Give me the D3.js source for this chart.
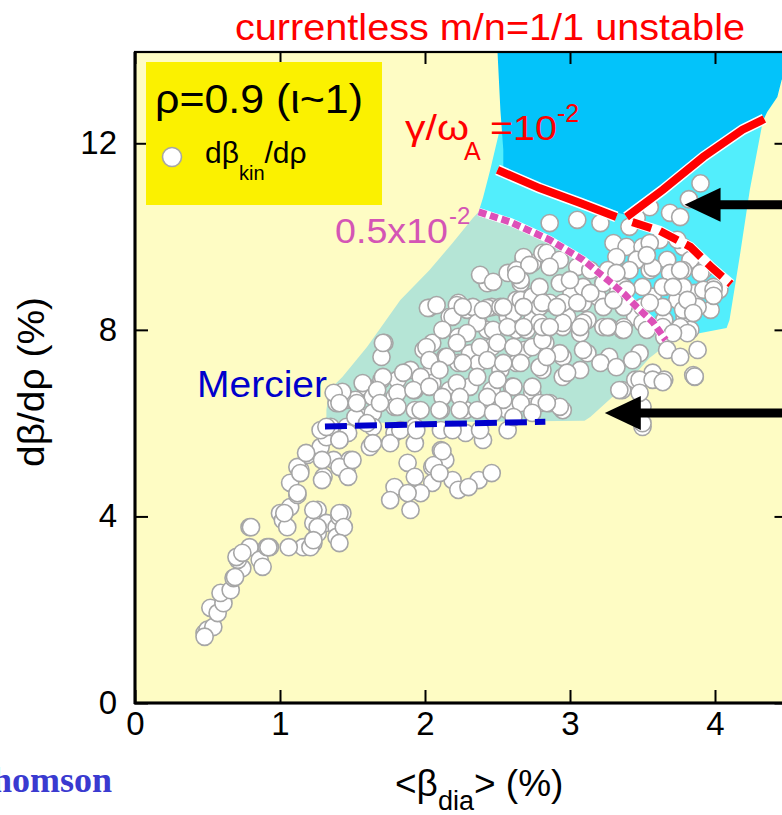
<!DOCTYPE html>
<html><head><meta charset="utf-8">
<script src="https://cdn.jsdelivr.net/npm/d3@7"></script>
<style>body{margin:0;background:#fff}svg{display:block}</style>
</head><body><svg id="c" width="782" height="815" font-family="'Liberation Sans',Arial,sans-serif"></svg>
<script>
// ---------- data ----------
const xTicks = [0, 1, 2, 3, 4];
const yTicks = [0, 4, 8, 12];

// <beta_dia> (%), d beta_kin / d rho (%)
const dBetaKinPoints = [
[0.48,1.50],[0.50,1.57],[0.54,1.63],[0.52,2.04],[0.57,1.93],[0.61,2.14],[0.59,2.36],[0.66,2.42],[0.68,2.68],[0.74,2.89],
[0.71,3.07],[0.70,3.13],[0.79,3.34],[0.86,3.07],[0.91,3.34],[0.88,2.92],[0.79,3.77],[1.00,4.07],[1.02,3.92],[1.05,3.77],
[1.07,4.20],[1.12,4.46],[1.07,4.72],[1.14,5.00],[1.19,5.32],[1.12,5.06],[1.28,5.49],[1.32,5.70],[1.41,5.64],[1.37,5.21],
[1.48,5.21],[1.46,4.93],[1.30,4.85],[1.26,4.14],[1.23,3.86],[1.26,3.64],[1.23,3.43],[1.16,3.34],[1.32,3.86],[1.39,3.77],
[1.41,3.99],[1.43,4.07],[1.39,3.56],[1.28,5.85],[1.46,5.92],[1.62,5.49],[1.55,6.13],[1.39,6.43],[1.46,6.50],
[0.48,1.42],[0.69,2.70],[1.21,3.34],[0.93,3.34],
[2.43,9.00],[2.66,9.00],[2.98,9.00],[3.36,8.92],[3.65,8.92],[4.03,8.86],[2.03,8.47],[2.23,8.58],[2.31,8.43],[2.46,8.49],
[2.63,8.64],[2.78,8.71],[2.86,8.58],[3.01,8.79],[3.19,8.71],[3.33,8.79],[3.57,8.71],[3.74,8.64],[3.86,8.79],[3.97,8.43],
[2.17,8.28],[2.37,8.15],[2.57,8.28],[2.74,8.21],[2.83,8.06],[2.98,8.28],[3.12,8.21],[3.27,8.06],[3.45,8.28],[3.65,8.21],
[3.79,8.28],[3.83,8.00],[3.36,8.00],[3.07,7.93],[2.63,8.00],[2.43,8.00],[2.23,7.85],[2.05,7.72],[1.99,7.57],[1.72,7.72],
[1.70,7.42],[2.14,7.42],[2.31,7.50],[2.46,7.63],[2.69,7.57],[2.83,7.72],[2.95,7.42],[3.12,7.50],[3.27,7.42],[3.48,7.50],
[3.65,7.85],[3.86,6.99],[3.36,6.71],[3.45,6.93],[3.57,7.08],[3.65,6.93],[3.50,6.35],[3.50,5.92],[3.07,7.14],[2.95,6.99],
[2.81,7.14],[2.63,7.29],[2.52,7.14],[2.37,7.29],[2.23,7.29],[2.05,7.20],[1.90,7.14],[1.81,6.93],[1.70,6.93],[1.59,6.78],
[1.44,6.60],[1.52,6.50],[1.64,6.56],[1.79,6.56],[1.93,6.71],[2.05,6.86],[2.17,6.71],[2.31,6.78],[2.46,6.71],[2.60,6.78],
[2.74,6.65],[2.86,6.43],[2.95,6.28],[2.74,6.35],[2.57,6.28],[2.43,6.35],[2.28,6.28],[2.11,6.28],[1.93,6.28],[1.79,6.35],
[1.64,6.22],[1.52,6.13],[1.35,5.92],[1.47,5.79],[1.64,5.92],[1.79,5.79],[1.93,5.92],[2.11,5.85],[2.28,5.79],[2.40,5.64],
[2.57,5.85],[1.76,5.57],[1.64,5.57],[1.41,5.64],[1.93,5.57],[2.11,5.42],[2.14,5.21],[2.05,5.06],[1.88,5.15],[1.93,4.85],
[2.05,4.72],[2.19,4.78],[2.23,4.57],[2.37,4.78],[2.46,4.93],[1.79,4.63],[1.76,4.35],[1.90,4.14],[1.97,4.50],[1.18,5.36],
[1.29,5.21],[1.41,5.06],[1.50,5.21],[1.14,4.93],[1.29,4.78],[1.47,4.85],[1.12,4.50],[1.03,4.07],[1.23,4.14],[1.41,4.07],
[1.44,3.77],[1.26,3.77],[1.23,3.49],[1.41,3.43],[0.80,3.77],[0.74,3.22],[0.92,3.34],[1.06,3.34],
[2.38,9.18],[2.47,9.03],[2.68,9.50],[2.66,9.07],[2.74,9.43],[2.81,9.65],[2.02,8.47],[2.08,8.53],[2.22,8.53],[2.29,8.43],
[2.19,8.28],[2.33,8.49],[2.43,8.47],[2.52,8.49],[2.61,8.36],[2.66,8.64],[2.74,8.71],[2.79,8.49],[2.36,8.15],[2.47,8.00],
[2.57,8.06],[2.70,8.00],[2.79,8.15],[2.29,7.93],[2.12,8.00],[2.22,7.72],[2.38,7.63],[2.50,7.72],[2.61,7.63],[2.74,7.63],
[2.81,7.78],[1.71,7.72],[2.01,7.63],[2.03,7.35],[2.15,7.42],[2.26,7.29],[2.43,7.35],[2.54,7.29],[2.66,7.29],[2.79,7.20],
[1.71,6.99],[1.85,7.08],[1.97,6.99],[2.10,7.14],[2.22,6.86],[2.36,6.99],[2.50,6.93],[2.61,6.78],[2.74,6.78],[1.43,6.67],
[1.57,6.86],[1.67,6.71],[1.81,6.65],[1.92,6.71],[2.03,6.78],[2.12,6.56],[2.24,6.56],[2.43,6.56],[2.54,6.50],[2.66,6.43],
[2.79,6.43],[1.53,6.43],[1.69,6.43],[1.81,6.35],[1.97,6.28],[2.10,6.28],[2.24,6.28],[2.36,6.28],[2.47,6.22],[2.61,6.13],
[2.74,6.22],[1.37,6.65],[1.41,6.43],[1.32,5.92],[1.60,6.00],[1.83,5.85],[1.94,5.85],[2.19,5.85],[2.38,5.85],
[2.86,10.29],[3.05,10.36],[3.21,10.29],[3.55,10.63],[3.69,10.51],[3.76,10.42],[3.82,10.80],[3.90,11.14],[3.46,10.40],
[3.30,9.86],[3.39,9.78],[3.50,9.78],[3.62,9.93],[3.78,9.78],[3.83,9.50],[3.67,9.50],[3.46,9.50],[3.32,9.56],[2.68,9.56],
[2.84,9.65],[2.93,9.50],[3.05,9.35],[3.14,9.28],[3.26,9.28],[3.41,9.28],[3.55,9.28],[3.69,9.22],[3.78,9.28],[3.92,9.28],
[3.99,8.92],[3.92,8.86],[3.78,8.92],[3.64,8.92],[3.50,8.92],[3.37,8.92],[3.23,9.00],[3.09,8.92],[2.93,9.00],[2.79,8.92],
[2.57,9.22],[2.63,9.28],[2.26,8.49],[2.40,8.43],[2.54,8.49],[2.68,8.49],[2.81,8.58],[2.95,8.58],[3.09,8.58],[3.23,8.49],
[3.37,8.49],[3.50,8.49],[3.64,8.49],[3.78,8.43],[3.88,8.49],[3.76,8.06],[3.64,8.06],[3.50,8.15],[3.37,8.06],[3.23,8.06],
[3.09,8.15],[2.95,8.06],[2.81,8.06],[2.68,8.06],
[2.86,9.35],[3.00,9.07],[3.14,8.79],[3.32,9.22],[3.57,9.33],[3.76,9.28],[3.90,9.22],[3.99,8.86],[3.71,8.92],[3.81,8.64],
[3.85,8.36],[3.81,7.93],[3.71,7.93],[3.67,7.57],[3.53,8.00],[3.55,8.58],[3.39,8.86],[3.30,8.64],[3.37,8.00],[3.26,8.06],
[3.07,8.06],[2.95,8.15],[2.86,8.06],[2.91,8.49],[3.05,8.58],[3.09,7.57],[2.93,7.50],[2.84,7.42],[2.98,7.08],[3.21,7.29],
[3.32,7.20],[3.43,7.35],[3.48,6.93],[3.57,6.93],[3.64,6.88],[3.34,6.71],[3.48,6.65],[3.85,7.03],[3.50,6.00],[2.93,6.35],
[2.84,6.43],
[3.41,10.21],[3.55,9.86],[3.74,9.93],[2.72,9.39],[2.63,9.18],[3.53,9.60],[3.99,8.73],[3.88,7.57],[3.76,7.42],[3.86,7.00],
[2.06,5.10],[2.12,5.40],[1.88,4.50],[2.10,4.93],[2.30,4.63]
];

// stability regions (beta_dia, dbeta/drho)
const unstableRegion = [[2.50,13.96],[4.55,13.96],[4.55,13.58],[4.46,13.36],[4.43,12.99],[4.36,12.67],[4.33,12.48],
  [4.19,12.29],[3.92,11.71],[3.64,11.00],[3.39,10.46],[3.07,10.72],[2.79,11.04],[2.54,11.43],[2.54,11.86],[2.52,12.71]];
const gammaCurveSolidLeft = [[2.50,11.43],[2.79,11.04],[3.07,10.72],[3.32,10.42]];
const gammaCurveSolidRight = [[3.39,10.42],[3.64,11.00],[3.92,11.71],[4.19,12.29],[4.34,12.52]];
const gammaCurveDashed = [[3.43,10.31],[3.62,10.12],[3.83,9.78],[3.98,9.33],[4.11,8.98]];
const halfGammaCurve = [[2.37,10.53],[2.59,10.31],[2.86,9.93],[3.09,9.50],[3.26,9.07],[3.38,8.75],[3.46,8.49],[3.57,8.17],[3.66,7.78]];
const cyanRegionOuter = [[2.51,12.22],[4.38,12.93],[4.33,12.48],[4.24,11.00],[4.17,9.56],[4.10,8.21],[4.08,8.04],[3.90,7.93],[3.66,7.74]];
const cyanRegionLeft = [[2.37,10.53],[2.40,10.83],[2.45,11.43]];
const tealRegionEdge = [[3.66,7.78],[3.62,7.57],[3.55,7.40],[3.37,6.78],[3.14,6.13],[3.10,6.05],[1.32,6.00],[1.32,6.28],
  [1.34,6.71],[1.43,6.99],[1.60,7.63],[1.83,8.64],[2.03,9.28],[2.19,9.86],[2.33,10.40]];
const mercierLine = [[1.31,5.93],[2.83,6.03]];
const arrowTips = [[3.79,10.68],[3.24,6.22]];

// ---------- drawing ----------
const svg = d3.select("#c");
const x = d3.scaleLinear().domain([0, 4.5]).range([135, 787.5]);
const y = d3.scaleLinear().domain([0, 14]).range([703, 50]);
const L = 135, T = 52, R = 787.5, B = 703;
const SANS = "'Liberation Sans',Arial,sans-serif";

svg.append("defs").append("clipPath").attr("id","clip")
  .append("rect").attr("x",L).attr("y",T).attr("width",R-L).attr("height",B-T);

svg.append("rect").attr("x",L).attr("y",T).attr("width",R-L).attr("height",B-T).attr("fill","#fefcc4");

const g = svg.append("g").attr("clip-path","url(#clip)");
const line = d3.line().x(d=>x(d[0])).y(d=>y(d[1]));
const poly = pts => "M" + pts.map(d=>x(d[0])+","+y(d[1])).join("L") + "Z";

const cyanPts = cyanRegionOuter.concat(halfGammaCurve.slice().reverse()).concat(cyanRegionLeft.slice(1));
g.append("path").attr("d", poly(cyanPts)).attr("fill","#52eefc");
g.append("path").attr("d", poly(unstableRegion)).attr("fill","#03c3fa");
const tealPts = halfGammaCurve.concat(tealRegionEdge.slice(1));
g.append("path").attr("d", poly(tealPts)).attr("fill","#b5e5d6");

// scatter
g.append("g").selectAll("circle").data(dBetaKinPoints).join("circle")
  .attr("cx", d=>x(d[0])).attr("cy", d=>y(d[1])).attr("r", 8.6)
  .attr("fill","#fff").attr("stroke","#a6a6a6").attr("stroke-width",1.6);

// curves
[gammaCurveSolidLeft, gammaCurveSolidRight].forEach(c=>{
  g.append("path").attr("d", line(c)).attr("fill","none").attr("stroke","#fff").attr("stroke-width",11);
  g.append("path").attr("d", line(c)).attr("fill","none").attr("stroke","#ff0000").attr("stroke-width",8);
});
g.append("path").attr("d", line(gammaCurveDashed)).attr("fill","none").attr("stroke","#fff").attr("stroke-width",10);
g.append("path").attr("d", line(gammaCurveDashed)).attr("fill","none").attr("stroke","#ff0000").attr("stroke-width",8).attr("stroke-dasharray","20,9");
g.append("path").attr("d", line(halfGammaCurve)).attr("fill","none").attr("stroke","#fff").attr("stroke-width",8);
g.append("path").attr("d", line(halfGammaCurve)).attr("fill","none").attr("stroke","#dd50b8").attr("stroke-width",7).attr("stroke-dasharray","8,4");
g.append("path").attr("d", line(mercierLine)).attr("fill","none").attr("stroke","#0000cc").attr("stroke-width",6).attr("stroke-dasharray","22,8");

// arrows
arrowTips.forEach(t=>{
  const tx = x(t[0]), ty = y(t[1]);
  svg.append("line").attr("x1",tx+30).attr("y1",ty).attr("x2",800).attr("y2",ty).attr("stroke","#000").attr("stroke-width",9);
  svg.append("path").attr("d",`M${tx},${ty}L${tx+36},${ty-17}L${tx+36},${ty+17}Z`).attr("fill","#000");
});

// axes / frame
const tickStyle = sel => { sel.select(".domain").remove(); sel.selectAll(".tick line").attr("stroke","#000").attr("stroke-width",2);
  sel.attr("font-family",SANS).attr("font-size",33);
  sel.selectAll("text").attr("fill","#000"); };
svg.append("g").attr("transform",`translate(0,${B})`).call(d3.axisBottom(x).tickValues(xTicks).tickSize(-13).tickPadding(9).tickFormat(d3.format("d"))).call(tickStyle);
svg.append("g").attr("transform",`translate(0,${T})`).call(d3.axisTop(x).tickValues(xTicks).tickSize(-12).tickFormat("")).call(tickStyle);
svg.append("g").attr("transform",`translate(${L},0)`).call(d3.axisLeft(y).tickValues(yTicks).tickSize(-13).tickPadding(18).tickFormat(d3.format("d"))).call(tickStyle);
svg.append("g").attr("transform",`translate(${R},0)`).call(d3.axisRight(y).tickValues(yTicks).tickSize(-13).tickFormat("")).call(tickStyle);
svg.append("rect").attr("x",L).attr("y",T).attr("width",R-L).attr("height",B-T).attr("fill","none").attr("stroke","#000").attr("stroke-width",2.2);
svg.append("line").attr("x1",L-1).attr("x2",R).attr("y1",B).attr("y2",B).attr("stroke","#000").attr("stroke-width",3);
svg.append("line").attr("x1",L).attr("x2",L).attr("y1",T).attr("y2",B+1).attr("stroke","#000").attr("stroke-width",3);

// title
svg.append("text").attr("x",235).attr("y",40).attr("font-size",37).attr("fill","#ff0000")
  .attr("textLength",510).attr("lengthAdjust","spacingAndGlyphs").text("currentless m/n=1/1 unstable");

// legend
svg.append("rect").attr("x",146).attr("y",62).attr("width",236).attr("height",143).attr("fill","#fbf100");
svg.append("text").attr("x",155).attr("y",113).attr("font-size",41).attr("fill","#000")
  .attr("textLength",208).attr("lengthAdjust","spacingAndGlyphs").text("ρ=0.9 (ι~1)");
svg.append("circle").attr("cx",172).attr("cy",157).attr("r",9.5).attr("fill","#fff").attr("stroke","#a6a6a6").attr("stroke-width",1.6);
const lg = svg.append("text").attr("x",205).attr("y",163).attr("font-size",30).attr("fill","#000");
lg.append("tspan").text("dβ");
lg.append("tspan").attr("font-size",20).attr("dy",17).text("kin");
lg.append("tspan").attr("dy",-17).text("/dρ");

// curve labels
svg.append("text").attr("x",405).attr("y",140).attr("font-size",35).attr("fill","#ff0000")
  .attr("textLength",64).attr("lengthAdjust","spacingAndGlyphs").text("γ/ω");
svg.append("text").attr("x",464).attr("y",160).attr("font-size",25).attr("fill","#ff0000").text("A");
svg.append("text").attr("x",490).attr("y",140).attr("font-size",35).attr("fill","#ff0000")
  .attr("textLength",67).attr("lengthAdjust","spacingAndGlyphs").text("=10");
svg.append("text").attr("x",557).attr("y",122).attr("font-size",25).attr("fill","#ff0000").text("-2");
svg.append("text").attr("x",335).attr("y",243).attr("font-size",35).attr("fill","#d455b5")
  .attr("textLength",113).attr("lengthAdjust","spacingAndGlyphs").text("0.5x10");
svg.append("text").attr("x",449).attr("y",224).attr("font-size",24).attr("fill","#d455b5").text("-2");
svg.append("text").attr("x",197).attr("y",397).attr("font-size",37).attr("fill","#0000cc")
  .attr("textLength",130).attr("lengthAdjust","spacingAndGlyphs").text("Mercier");

// axis titles
const xt = svg.append("text").attr("x",395).attr("y",796).attr("font-size",37).attr("fill","#000");
xt.append("tspan").text("<β");
xt.append("tspan").attr("font-size",27).attr("dy",14).text("dia");
xt.append("tspan").attr("dy",-14).text("> (%)");
svg.append("text").attr("transform","translate(44,382) rotate(-90)").attr("text-anchor","middle")
  .attr("font-size",37).attr("fill","#000").attr("textLength",170).attr("lengthAdjust","spacingAndGlyphs").text("dβ/dρ (%)");

// partially visible footer text (cut at left edge as in the reference)
svg.append("text").attr("x",112).attr("y",792).attr("text-anchor","end").attr("font-size",36)
  .attr("font-weight","bold").attr("font-family","'Liberation Serif','Times New Roman',serif").attr("fill","#3a3ad0").text("Thomson");
</script></body></html>
